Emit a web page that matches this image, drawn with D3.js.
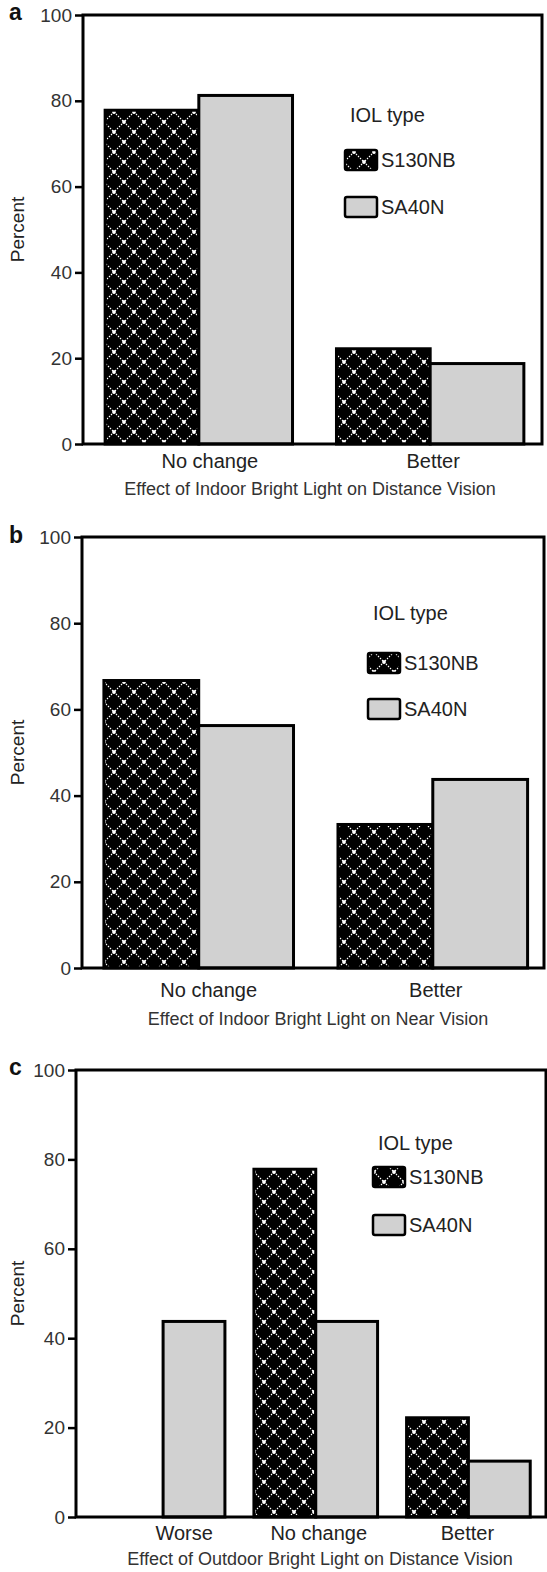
<!DOCTYPE html>
<html>
<head>
<meta charset="utf-8">
<script src="https://cdn.jsdelivr.net/npm/d3@7"></script>
<style>
  body { margin: 0; background: #fff; }
  svg { display: block; font-family: "Liberation Sans", Arial, sans-serif; }
</style>
</head>
<body>
<svg width="547" height="1572"></svg>
<script>
// values (percent of eyes, S130NB n=9, SA40N n=16)
var seriesNames = ["S130NB", "SA40N"];
var yTicks = [0, 20, 40, 60, 80, 100];

var catsA = ["No change", "Better"];
var s130A = [77.8, 22.2];
var sa40A = [81.25, 18.75];

var catsB = ["No change", "Better"];
var s130B = [66.7, 33.3];
var sa40B = [56.25, 43.75];

var catsC = ["Worse", "No change", "Better"];
var s130C = [0, 77.8, 22.2];
var sa40C = [43.75, 43.75, 12.5];

var titles = [
    "Effect of Indoor Bright Light on Distance Vision",
    "Effect of Indoor Bright Light on Near Vision",
    "Effect of Outdoor Bright Light on Distance Vision"
];
var letters = ["a", "b", "c"];

var svg = d3.select("svg");

// hatched fill for S130NB
var defs = svg.append("defs");
var pat = defs.append("pattern")
    .attr("id", "hatch")
    .attr("patternUnits", "userSpaceOnUse")
    .attr("x", 4).attr("y", 2)
    .attr("width", 20).attr("height", 20);
pat.append("rect").attr("width", 20).attr("height", 20).attr("fill", "#000");
pat.append("path")
    .attr("d", "M0,0L20,20M20,0L0,20")
    .attr("stroke", "#fff").attr("stroke-width", 1.1)
    .attr("stroke-dasharray", "1.4,1.43");
[[0, 0], [20, 0], [0, 20], [20, 20], [10, 10]].forEach(function (p) {
    pat.append("circle").attr("cx", p[0]).attr("cy", p[1]).attr("r", 1.9).attr("fill", "#fff");
});

var fills = ["url(#hatch)", "#d1d1d1"];

// layout of the three stacked panels
var panels = [
    { cats: catsA, vals: [s130A, sa40A], top: 15, bottom: 444, left: 83, right: 542,
      band: [82, 547], labelDx: [11, 3], catY: 468, titleX: 310, titleY: 495,
      legX: 345, legY: [115, 160, 207], letterY: 20 },
    { cats: catsB, vals: [s130B, sa40B], top: 537, bottom: 968, left: 82, right: 544,
      band: [80.5, 551], labelDx: [10, 3], catY: 997, titleX: 318, titleY: 1025,
      legX: 368, legY: [613, 663, 709], letterY: 543 },
    { cats: catsC, vals: [s130C, sa40C], top: 1070, bottom: 1517, left: 76, right: 546,
      band: [86, 545.5], labelDx: [21, 3, -1], catY: 1540, titleX: 320, titleY: 1565,
      legX: 373, legY: [1143, 1177, 1225], letterY: 1075 }
];

function drawPanel(p, i) {
    var g = svg.append("g");

    var y = d3.scaleLinear().domain([0, 100]).range([p.bottom, p.top]);

    var x0 = d3.scaleBand()
        .domain(p.cats)
        .range(p.band)
        .paddingInner(0.19)
        .paddingOuter(0.1);

    var x1 = d3.scaleBand()
        .domain(seriesNames)
        .range([0, x0.bandwidth()]);

    // bars
    seriesNames.forEach(function (s, si) {
        g.selectAll(".bar" + si)
            .data(p.cats.map(function (c, ci) { return { cat: c, v: p.vals[si][ci] }; })
                .filter(function (d) { return d.v > 0; }))
            .enter().append("rect")
            .attr("x", function (d) { return x0(d.cat) + x1(s); })
            .attr("width", x1.bandwidth())
            .attr("y", function (d) { return y(d.v); })
            .attr("height", function (d) { return p.bottom - y(d.v); })
            .attr("fill", fills[si])
            .attr("stroke", "#000")
            .attr("stroke-width", 3);
    });

    // frame
    g.append("rect")
        .attr("x", p.left).attr("y", p.top)
        .attr("width", p.right - p.left).attr("height", p.bottom - p.top)
        .attr("fill", "none").attr("stroke", "#000").attr("stroke-width", 3);

    // y axis
    var yAxis = g.append("g")
        .attr("transform", "translate(" + p.left + ",0)")
        .call(d3.axisLeft(y).tickValues(yTicks).tickSize(8).tickPadding(3));
    yAxis.select(".domain").remove();
    yAxis.selectAll("line").attr("stroke", "#000").attr("stroke-width", 2.5);
    yAxis.selectAll("text").attr("font-size", 19).attr("fill", "#333")
        .attr("font-family", "Liberation Sans, Arial, sans-serif");

    // category labels
    var xAxis = g.append("g")
        .attr("transform", "translate(0," + p.bottom + ")")
        .call(d3.axisBottom(x0).tickSize(0).tickPadding(0));
    xAxis.select(".domain").remove();
    xAxis.selectAll("text")
        .attr("x", function (d, k) { return p.labelDx[k]; })
        .attr("y", p.catY - p.bottom).attr("dy", 0)
        .attr("font-size", 20).attr("fill", "#222")
        .attr("font-family", "Liberation Sans, Arial, sans-serif");

    // axis titles
    g.append("text")
        .attr("transform", "translate(24," + (p.top + p.bottom) / 2 + ") rotate(-90)")
        .attr("text-anchor", "middle")
        .attr("font-size", 19).attr("fill", "#222")
        .text("Percent");

    g.append("text")
        .attr("x", p.titleX).attr("y", p.titleY)
        .attr("text-anchor", "middle")
        .attr("font-size", 18).attr("fill", "#333")
        .text(titles[i]);

    g.append("text")
        .attr("x", 9).attr("y", p.letterY)
        .attr("font-size", 23).attr("font-weight", "bold").attr("fill", "#111")
        .text(letters[i]);

    // legend
    g.append("text")
        .attr("x", p.legX + 5).attr("y", p.legY[0] + 7)
        .attr("font-size", 20).attr("fill", "#222")
        .text("IOL type");
    seriesNames.forEach(function (s, si) {
        g.append("rect")
            .attr("x", p.legX).attr("y", p.legY[si + 1] - 10)
            .attr("width", 32).attr("height", 20).attr("rx", 2)
            .attr("fill", fills[si]).attr("stroke", "#000").attr("stroke-width", 2.5);
        g.append("text")
            .attr("x", p.legX + 36).attr("y", p.legY[si + 1] + 7)
            .attr("font-size", 20).attr("fill", "#222")
            .text(s);
    });
}

panels.forEach(drawPanel);
</script>
</body>
</html>
